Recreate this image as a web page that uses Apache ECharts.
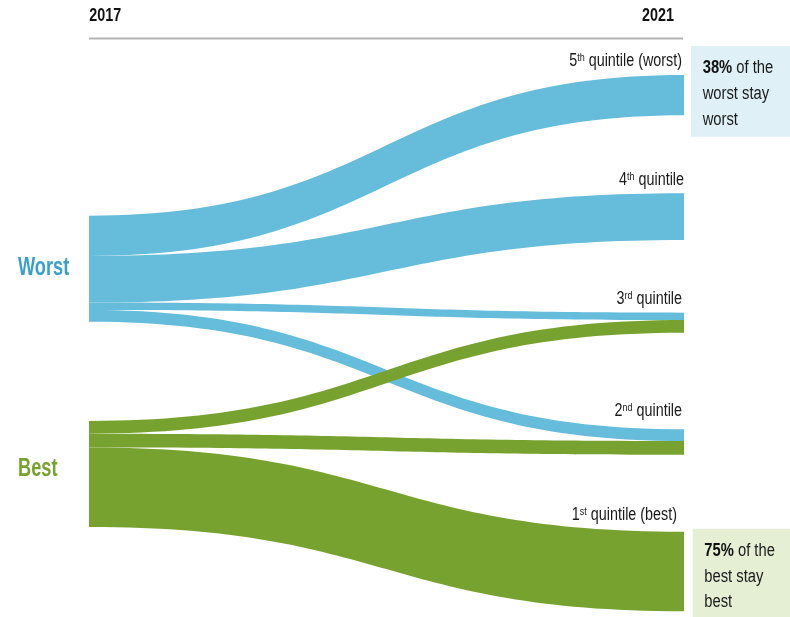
<!DOCTYPE html>
<html>
<head>
<meta charset="utf-8">
<script src="https://cdn.jsdelivr.net/npm/echarts@6/dist/echarts.min.js"></script>
<style>
  html, body { margin: 0; padding: 0; background: #ffffff; }
  #chart { width: 790px; height: 617px; }
</style>
</head>
<body>
<div id="chart"></div>
<script>
// Mobility between 2017 and 2021 groups (share of each 2017 group, %)
const sourceGroups = ['Worst', 'Best'];
const targetGroups = ['5th', '4th', '3rd', '2nd', '1st'];
const targetLabels = [
  ['5', 'th', ' quintile (worst)'],
  ['4', 'th', ' quintile'],
  ['3', 'rd', ' quintile'],
  ['2', 'nd', ' quintile'],
  ['1', 'st', ' quintile (best)']
];
const worstFlows = [38, 44, 7, 11, 0];
const bestFlows = [0, 0, 12, 13, 75];
const yearLabels = ['2017', '2021'];

// Arial-style face squeezed horizontally to a narrow cut
const FONT = "'Liberation Sans', Arial, sans-serif";
const NARROW = 0.82;
const BLUE = '#66bcdb';
const GREEN = '#78a22f';
const MID = 0.3465; // baseline offset of a 'middle'-aligned line, in em

// Node placement: top edge in px (series box starts at y = 0)
const sourceTop = [215.7, 421];
const targetTop = [75, 193.3, 312.7, 429.3, 531.7];
// Label anchors for the 2021 groups: right edge and baseline
const targetLabelRight = [682, 684, 682, 682, 677];
const targetLabelBase = [67.5, 186, 305, 417.3, 521.7];
const sourceLabelBase = [277, 477.7];

const chartH = 617;

const nodes = [];
sourceGroups.forEach(function (name, i) {
  nodes.push({
    name: name,
    localY: sourceTop[i] / chartH,
    itemStyle: { color: i === 0 ? BLUE : GREEN },
    label: { show: false }
  });
});
targetGroups.forEach(function (name, i) {
  nodes.push({
    name: name,
    localY: targetTop[i] / chartH,
    itemStyle: { color: 'rgba(0,0,0,0)' },
    label: { show: false }
  });
});

const links = [];
targetGroups.forEach(function (t, i) {
  if (worstFlows[i] > 0) links.push({ source: 'Worst', target: t, value: worstFlows[i], lineStyle: { color: BLUE } });
});
targetGroups.forEach(function (t, i) {
  if (bestFlows[i] > 0) links.push({ source: 'Best', target: t, value: bestFlows[i], lineStyle: { color: GREEN } });
});

// Text overlays
const graphics = [];
const HEAD = 17.5;
graphics.push({
  type: 'text', x: 89.3, y: 22 - MID * HEAD, scaleX: NARROW,
  style: { text: yearLabels[0], font: 'bold ' + HEAD + 'px ' + FONT, fill: '#111', verticalAlign: 'middle' }
});
graphics.push({
  type: 'text', x: 674, y: 22 - MID * HEAD, scaleX: NARROW,
  style: { text: yearLabels[1], font: 'bold ' + HEAD + 'px ' + FONT, fill: '#111', align: 'right', verticalAlign: 'middle' }
});
graphics.push({ type: 'rect', shape: { x: 89, y: 37.5, width: 594, height: 2 }, style: { fill: '#b5b5b5' } });

const GROUP = 26;
sourceGroups.forEach(function (name, i) {
  graphics.push({
    type: 'text', x: 18, y: sourceLabelBase[i] - MID * GROUP, scaleX: 0.7,
    style: {
      text: name, font: 'bold ' + GROUP + 'px ' + FONT,
      fill: i === 0 ? '#3aa0c9' : '#78a22f', verticalAlign: 'middle'
    }
  });
});

const LAB = 17.5;
targetLabels.forEach(function (parts, i) {
  graphics.push({
    type: 'text', x: targetLabelRight[i], y: targetLabelBase[i] - MID * LAB, scaleX: NARROW,
    style: {
      text: '{m|' + parts[0] + '}{s|' + parts[1] + '}{m|' + parts[2] + '}',
      align: 'right', verticalAlign: 'middle',
      rich: {
        m: { fontFamily: FONT, fontSize: LAB, fill: '#1a1a1a', lineHeight: LAB },
        s: { fontFamily: FONT, fontSize: 11, fill: '#1a1a1a', lineHeight: 11, verticalAlign: 'top' }
      }
    }
  });
});

const BOX = 18;
const BOX_LH = 25.8;
function noteBox(rect, textX, firstBase, share, words, bg) {
  graphics.push({ type: 'rect', shape: rect, style: { fill: bg } });
  graphics.push({
    type: 'text', x: textX, y: firstBase - BOX_LH / 2 - MID * BOX, scaleX: NARROW,
    style: {
      text: '{b|' + share + '%}{r| of the}\n{r|' + words[0] + '}\n{r|' + words[1] + '}',
      verticalAlign: 'top',
      rich: {
        b: { fontFamily: FONT, fontWeight: 'bold', fontSize: BOX, fill: '#111', lineHeight: BOX_LH },
        r: { fontFamily: FONT, fontSize: BOX, fill: '#1a1a1a', lineHeight: BOX_LH }
      }
    }
  });
}
noteBox({ x: 691, y: 46, width: 99, height: 90.7 }, 702.7, 74.3, worstFlows[0], ['worst stay', 'worst'], '#dff0f7');
noteBox({ x: 692.7, y: 528.7, width: 97.3, height: 88.3 }, 704.3, 557, bestFlows[4], ['best stay', 'best'], '#e4efd4');

const chart = echarts.init(document.getElementById('chart'), null, { renderer: 'canvas' });

chart.setOption({
  animation: false,
  backgroundColor: '#ffffff',
  series: [{
    type: 'sankey',
    left: 89,
    right: 106,
    top: 0,
    bottom: 0,
    nodeWidth: 0,
    nodeGap: 101.25,
    layoutIterations: 0,
    draggable: false,
    emphasis: { disabled: true },
    lineStyle: { opacity: 1, curveness: 0.5 },
    label: { show: false },
    data: nodes,
    links: links
  }],
  graphic: graphics
});
</script>
</body>
</html>
